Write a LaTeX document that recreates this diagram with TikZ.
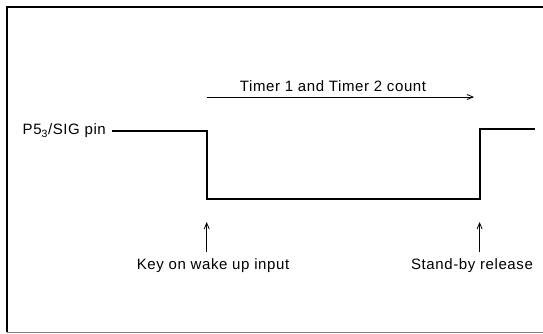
\documentclass[tikz,border=0pt]{standalone}
\usepackage{fontspec}
\setmainfont{Liberation Sans}[LetterSpace=4]
\usetikzlibrary{arrows.meta}
\begin{document}
\begin{tikzpicture}[x=1pt,y=-1pt,
    lbl/.style={inner sep=0pt,font=\fontsize{15}{18}\selectfont},
    signal/.style={line width=2pt,line join=miter},
    frameline/.style={line width=1.8pt},
    thinarrow/.style={line width=0.8pt,-{Straight Barb[length=6pt,width=5pt]}}]
  \useasboundingbox (0,0) rectangle (543,334);
  % outer frame (open on the right)
  \draw[frameline] (543,7) -- (7,7) -- (7,332);
  \draw[line width=1pt,gray] (7,332) -- (543,332);

  % pin label and waveform
  \node[lbl,anchor=east] (pin) at (106,131) {P5\textsubscript{3}/SIG pin};
  \coordinate (s0) at (112,131);
  \coordinate (fall) at (206.7,131);
  \coordinate (lowA) at (206.7,198.5);
  \coordinate (lowB) at (480,198.5);
  \coordinate (rise) at (480,129.5);
  \coordinate (s1) at (535,129.5);
  \draw[signal] (s0) -- (fall) -- (lowA) -- (lowB) -- (rise) -- (s1);

  % counting interval
  \node[lbl] (count) at (333,86.5) {Timer 1 and Timer 2 count};
  \coordinate (cA) at (206.7,97);
  \coordinate (cB) at (474,97);
  \draw[thinarrow] (cA) -- (cB);

  % event markers
  \node[lbl] (wake) at (213,265.6) {Key on wake up input};
  \node[lbl] (release) at (472,265.6) {Stand-by release};
  \coordinate (wA) at (206.7,252);
  \coordinate (wB) at (206.7,222);
  \coordinate (rA) at (479.6,252);
  \coordinate (rB) at (479.6,222);
  \draw[thinarrow] (wA) -- (wB);
  \draw[thinarrow] (rA) -- (rB);
\end{tikzpicture}
\end{document}
